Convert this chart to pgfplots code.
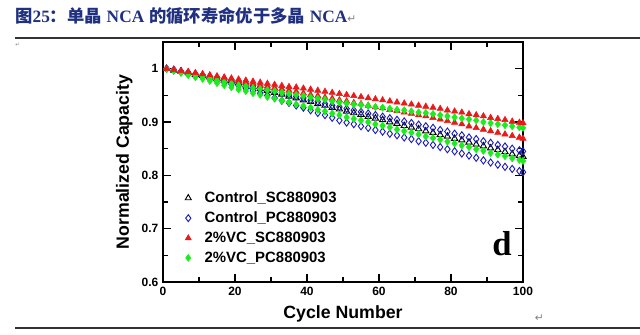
\documentclass[border=0pt]{standalone}
\usepackage{pgfplots}
\pgfplotsset{compat=1.18}
\usepackage{pgfplotstable}
\usepackage{fontspec}
\setmainfont{Liberation Sans}
\newfontfamily\cjk{Noto Sans CJK SC}
\newfontfamily\tnr{Liberation Serif}
\newfontfamily\dv{DejaVu Sans}
\definecolor{titleblue}{RGB}{32,48,128}
\definecolor{mred}{RGB}{235,25,25}
\definecolor{mgreen}{RGB}{30,235,30}
\definecolor{mblue}{RGB}{30,30,190}
\pgfplotstableread{
x r1 g1 r2 b1 k g2 b2
1 1.000 1.000 1.000 1.000 1.000 1.000 1.000
3 0.998 0.997 0.998 0.998 0.997 0.996 0.997
5 0.996 0.994 0.995 0.995 0.995 0.992 0.994
7 0.994 0.991 0.993 0.993 0.992 0.988 0.990
9 0.992 0.988 0.991 0.990 0.989 0.984 0.987
11 0.990 0.985 0.989 0.988 0.987 0.981 0.984
13 0.988 0.981 0.986 0.985 0.984 0.977 0.981
15 0.986 0.978 0.984 0.983 0.981 0.973 0.978
17 0.984 0.975 0.982 0.980 0.978 0.969 0.974
19 0.982 0.972 0.979 0.978 0.976 0.965 0.971
21 0.980 0.969 0.977 0.975 0.973 0.961 0.968
23 0.978 0.967 0.974 0.972 0.969 0.958 0.963
25 0.976 0.964 0.972 0.968 0.966 0.954 0.959
27 0.974 0.962 0.969 0.965 0.962 0.951 0.954
29 0.972 0.960 0.967 0.961 0.959 0.947 0.950
31 0.970 0.958 0.964 0.958 0.955 0.944 0.945
33 0.968 0.955 0.962 0.955 0.952 0.940 0.940
35 0.966 0.953 0.959 0.951 0.948 0.937 0.936
37 0.965 0.951 0.957 0.948 0.945 0.933 0.931
39 0.963 0.949 0.954 0.945 0.941 0.930 0.927
41 0.961 0.946 0.951 0.941 0.938 0.927 0.922
43 0.959 0.944 0.949 0.938 0.934 0.923 0.917
45 0.957 0.942 0.946 0.934 0.931 0.920 0.913
47 0.955 0.939 0.944 0.931 0.927 0.916 0.908
49 0.953 0.937 0.941 0.928 0.924 0.913 0.903
51 0.951 0.935 0.939 0.925 0.920 0.909 0.899
53 0.949 0.933 0.936 0.922 0.917 0.906 0.896
55 0.947 0.932 0.934 0.919 0.914 0.903 0.892
57 0.945 0.930 0.931 0.916 0.910 0.900 0.889
59 0.943 0.928 0.928 0.913 0.907 0.896 0.885
61 0.941 0.927 0.926 0.910 0.904 0.893 0.882
63 0.939 0.925 0.923 0.907 0.900 0.890 0.878
65 0.937 0.923 0.921 0.904 0.897 0.886 0.875
67 0.935 0.922 0.918 0.901 0.893 0.883 0.871
69 0.933 0.920 0.916 0.898 0.890 0.880 0.868
71 0.931 0.918 0.913 0.895 0.887 0.877 0.864
73 0.929 0.917 0.911 0.892 0.883 0.873 0.861
75 0.927 0.915 0.908 0.889 0.880 0.870 0.857
77 0.925 0.913 0.905 0.885 0.876 0.867 0.853
79 0.922 0.911 0.902 0.882 0.873 0.863 0.849
81 0.920 0.909 0.899 0.878 0.869 0.860 0.845
83 0.918 0.907 0.896 0.875 0.866 0.856 0.841
85 0.915 0.905 0.892 0.871 0.862 0.853 0.837
87 0.913 0.903 0.889 0.868 0.858 0.849 0.833
89 0.911 0.900 0.886 0.864 0.855 0.846 0.828
91 0.908 0.898 0.883 0.861 0.851 0.842 0.824
93 0.906 0.896 0.880 0.857 0.848 0.839 0.820
95 0.904 0.894 0.877 0.854 0.844 0.836 0.816
97 0.901 0.892 0.874 0.850 0.840 0.832 0.812
99 0.899 0.890 0.871 0.847 0.837 0.829 0.808
100 0.898 0.889 0.869 0.845 0.835 0.827 0.806
}\datatable
\begin{document}
\begin{tikzpicture}
\useasboundingbox (0,0) rectangle (480pt,251.25pt);
% title
\node[anchor=base west, inner sep=0, text=titleblue, font=\fontsize{13}{15}\selectfont] at (11.25pt,234pt)
 {{\cjk\bfseries 图}{\tnr\bfseries 25}{\cjk\bfseries ：单晶} {\tnr\bfseries NCA} {\cjk\bfseries 的循环寿命优于多晶} {\tnr\bfseries NCA}{\dv\color{gray}\fontsize{8}{9}\selectfont ↵}};
\draw[line width=0.8pt, black!80] (11.25pt,222.75pt) -- (480pt,222.75pt);
\node[anchor=base west, inner sep=0, text=gray, font=\dv\fontsize{4}{5}\selectfont] at (11.25pt,216pt) {↵};
\draw[line width=0.8pt, black!80] (11.25pt,5.25pt) -- (480pt,5.25pt);
\node[anchor=base west, inner sep=0, text=gray, font=\dv\fontsize{8}{9}\selectfont] at (401pt,10pt) {↵};
\begin{axis}[
  at={(122.25pt,39.75pt)}, anchor=south west,
  scale only axis, width=270pt, height=180pt,
  xmin=0, xmax=100, ymin=0.6, ymax=1.05,
  xtick={0,20,...,100}, minor xtick={10,30,...,90},
  ytick={0.6,0.7,0.8,0.9,1}, minor ytick={0.65,0.75,0.85,0.95},
  tick align=inside, major tick length=6pt, minor tick length=3.5pt,
  axis line style={line width=1.5pt},
  every tick/.style={line width=1.2pt, black},
  tick label style={font=\fontsize{9}{10}\selectfont\bfseries},
  /pgf/number format/assume math mode=true,
  xlabel={Cycle Number}, ylabel={Normalized Capacity},
  label style={font=\fontsize{13.3}{15}\selectfont\bfseries},
  xlabel style={yshift=-1pt},
  legend style={at={(0.05,0.40)}, anchor=north west, draw=none, fill=none,
    font=\fontsize{11.2}{13}\selectfont\bfseries, row sep=1.5pt,
    /tikz/every odd column/.append style={column sep=8pt}},
  legend cell align=left,
]
\addlegendimage{only marks, mark=triangle, black, mark size=2.6pt, mark options={line width=0.7pt}}
\addlegendentry{Control\_SC880903}
\addlegendimage{only marks, mark=diamond, mblue, mark size=2.6pt, mark options={line width=0.7pt}}
\addlegendentry{Control\_PC880903}
\addlegendimage{only marks, mark=triangle*, mred, mark size=2.6pt}
\addlegendentry{2\%VC\_SC880903}
\addlegendimage{only marks, mark=diamond*, mgreen, mark size=2.6pt}
\addlegendentry{2\%VC\_PC880903}
\addplot[forget plot, only marks, mark=triangle, black, mark size=2.7pt, mark options={line width=0.7pt}] table[x=x,y=k] {\datatable};
\addplot[forget plot, only marks, mark=diamond, mblue, mark size=2.7pt, mark options={line width=0.7pt}] table[x=x,y=b1] {\datatable};
\addplot[forget plot, only marks, mark=diamond, mblue, mark size=2.7pt, mark options={line width=0.7pt}] table[x=x,y=b2] {\datatable};
\addplot[forget plot, only marks, mark=diamond*, mgreen, mark size=2.7pt] table[x=x,y=g2] {\datatable};
\addplot[forget plot, only marks, mark=triangle*, mred, mark size=2.7pt] table[x=x,y=r2] {\datatable};
\addplot[forget plot, only marks, mark=diamond*, mgreen, mark size=2.7pt] table[x=x,y=g1] {\datatable};
\addplot[forget plot, only marks, mark=triangle*, mred, mark size=2.7pt] table[x=x,y=r1] {\datatable};
\node[font=\tnr\bfseries\fontsize{26}{28}\selectfont, inner sep=0] at (axis cs:94.2,0.672) {d};
\end{axis}
\end{tikzpicture}
\end{document}
